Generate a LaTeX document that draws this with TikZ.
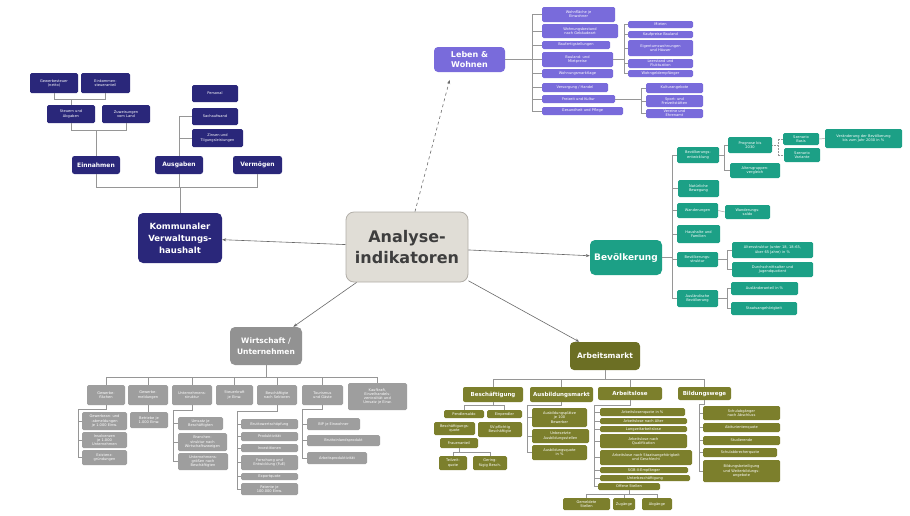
\documentclass[tikz,border=0pt]{standalone}
\usepackage{fontspec}
\setmainfont{DejaVu Sans}
\usetikzlibrary{arrows.meta,calc}
\definecolor{navyc}{RGB}{42,39,122}
\definecolor{violc}{RGB}{121,107,219}
\definecolor{tealc}{RGB}{28,160,134}
\definecolor{greyc}{RGB}{158,158,158}
\definecolor{greyd}{RGB}{146,146,146}
\definecolor{olivc}{RGB}{124,127,44}
\definecolor{olivd}{RGB}{108,111,36}
\definecolor{cenf}{RGB}{224,221,214}
\definecolor{cenb}{RGB}{178,174,168}
\definecolor{centxt}{RGB}{62,62,62}
\definecolor{linec}{RGB}{150,150,150}
\definecolor{mainc}{RGB}{105,105,105}
\newcommand\mkbox[7]{%
  \pgfmathsetmacro\mkw{#5-#3}%
  \pgfmathsetmacro\mkh{#6-#4}%
  \pgfmathsetmacro\mkx{(#3+#5)/2}%
  \pgfmathsetmacro\mky{(#4+#6)/2}%
  \pgfmathsetmacro\mktw{#5-#3-2}%
  \node[#1, minimum width=\mkw pt, minimum height=\mkh pt, text width=\mktw pt] (#2) at (\mkx,\mky) {#7};}
\tikzset{
  bx/.style={rounded corners=1.5pt, inner sep=0pt, align=center, text=white,
    font=\fontsize{3.6}{4.2}\selectfont},
  nv/.style={bx, fill=navyc},
  nvmid/.style={bx, fill=navyc, rounded corners=2.5pt, font=\fontsize{6}{7}\selectfont\bfseries},
  nvbig/.style={bx, fill=navyc, rounded corners=5pt, font=\fontsize{8.5}{12}\selectfont\bfseries},
  vi/.style={bx, fill=violc},
  vibig/.style={bx, fill=violc, rounded corners=4pt, font=\fontsize{8}{10}\selectfont\bfseries},
  tl/.style={bx, fill=tealc},
  tlbig/.style={bx, fill=tealc, rounded corners=5pt, font=\fontsize{9}{11}\selectfont\bfseries},
  gr/.style={bx, fill=greyc},
  grbig/.style={bx, fill=greyd, rounded corners=5pt, font=\fontsize{7.5}{11}\selectfont\bfseries},
  ol/.style={bx, fill=olivc},
  olmid/.style={bx, fill=olivc, rounded corners=2pt, font=\fontsize{5.5}{6.5}\selectfont\bfseries},
  olbig/.style={bx, fill=olivd, rounded corners=4pt, font=\fontsize{7.5}{9}\selectfont\bfseries},
  cen/.style={draw=cenb, fill=cenf, line width=0.8pt, rounded corners=8pt, inner sep=0pt,
    align=center, text=centxt, font=\fontsize{16}{21.5}\selectfont\bfseries},
  ln/.style={draw=linec, line width=0.45pt},
  mc/.style={draw=mainc, line width=0.6pt, -{Stealth[length=4pt,width=3pt]}},
}
\begin{document}
\begin{tikzpicture}[x=1pt,y=-1pt]
\fill[white] (0,0) rectangle (910,515);
\useasboundingbox (0,0) rectangle (910,515);

% ---------- centre
\mkbox{cen}{c}{346}{212}{468}{282}{Analyse-\\indikatoren}

% ---------- Kommunaler Verwaltungshaushalt
\mkbox{nvbig}{k0}{138}{213}{222}{263}{Kommunaler\\Verwaltungs-\\haushalt}
\mkbox{nvmid}{k1}{72}{156}{120}{174}{Einnahmen}
\mkbox{nvmid}{k2}{155}{156}{203}{174}{Ausgaben}
\mkbox{nvmid}{k3}{233}{156}{282}{174}{Vermögen}
\mkbox{nv}{k11}{47}{105}{95}{123}{Steuern und\\Abgaben}
\mkbox{nv}{k12}{102}{105}{150}{123}{Zuweisungen\\vom Land}
\mkbox{nv}{k111}{30}{73}{78}{93}{Gewerbesteuer\\(netto)}
\mkbox{nv}{k112}{81}{73}{130}{93}{Einkommen-\\steueranteil}
\mkbox{nv}{k21}{192}{85}{238}{102}{Personal}
\mkbox{nv}{k22}{192}{108}{238}{125}{Sachaufwand}
\mkbox{nv}{k23}{192}{129}{243}{147}{Zinsen und\\Tilgungsleistungen}
\coordinate (kb) at (0,187);
\coordinate (y130) at (0,130);
\coordinate (y99) at (0,99);
\draw[ln] (k1.south) |- (kb -| k3.south) -- (k3.south);
\draw[ln] (k0.north) -- (k0.north |- kb);
\draw[ln] (k2.south) -- (k2.south |- kb);
\draw[ln] (k11.south) |- (y130 -| k12.south) -- (k12.south);
\draw[ln] (k1.north) -- (k1.north |- y130);
\draw[ln] (k111.south) |- (y99 -| k112.south) -- (k112.south);
\draw[ln] (k11.north) -- (k11.north |- y99);
\draw[ln] (k2.north) -- (k2.north |- k22.west) -- (k22.west);
\draw[ln] (k2.north |- k23.west) -- (k23.west);

% ---------- Leben & Wohnen
\mkbox{vibig}{L0}{434}{47}{505}{72}{Leben \&\\Wohnen}
\mkbox{vi}{L1}{542}{7}{615}{22}{Wohnfläche je\\Einwohner}
\mkbox{vi}{L2}{542}{24}{618}{38}{Wohnungsbestand\\nach Gebäudeart}
\mkbox{vi}{L3}{542}{41}{610}{49}{Baufertigstellungen}
\mkbox{vi}{L4}{542}{52}{613}{67}{Bauland- und\\Mietpreise}
\mkbox{vi}{L5}{542}{69}{613}{78}{Wohnungsmarktlage}
\mkbox{vi}{L6}{542}{83}{608}{92}{Versorgung / Handel}
\mkbox{vi}{L7}{542}{95}{615}{103}{Freizeit und Kultur}
\mkbox{vi}{L8}{542}{107}{623}{115}{Gesundheit und Pflege}
\mkbox{vi}{L51}{628}{21}{693}{28}{Mieten}
\mkbox{vi}{L52}{628}{31}{693}{38}{Kaufpreise Bauland}
\mkbox{vi}{L53}{628}{40}{693}{56}{Eigentumswohnungen\\und Häuser}
\mkbox{vi}{L54}{628}{59}{693}{68}{Leerstand und\\Fluktuation}
\mkbox{vi}{L55}{628}{70}{693}{77}{Wohngeldempfänger}
\mkbox{vi}{L71}{646}{83}{703}{93}{Kulturangebote}
\mkbox{vi}{L72}{646}{95}{703}{107}{Sport- und\\Freizeitstätten}
\mkbox{vi}{L73}{646}{109}{703}{118}{Vereine und\\Ehrenamt}
\coordinate (lv) at (532,0);
\coordinate (rv) at (624,0);
\coordinate (rv2) at (641,0);
\draw[ln] (L0.east) -- (L0.east -| lv);
\draw[ln] (L1.west -| lv) -- (L8.west -| lv);
\foreach \n in {L1,L2,L3,L4,L5,L6,L7,L8} \draw[ln] (\n.west -| lv) -- (\n.west);
\draw[ln] (L4.east) -- (L4.east -| rv);
\draw[ln] (L51.west -| rv) -- (L55.west -| rv);
\foreach \n in {L51,L52,L53,L54,L55} \draw[ln] (\n.west -| rv) -- (\n.west);
\draw[ln] (L7.east) -- (L7.east -| rv2);
\draw[ln] (L71.west -| rv2) -- (L73.west -| rv2);
\foreach \n in {L71,L72,L73} \draw[ln] (\n.west -| rv2) -- (\n.west);

% ---------- Bevoelkerung
\mkbox{tlbig}{T0}{590}{240}{662}{275}{Bevölkerung}
\mkbox{tl}{T1}{677}{147}{719}{163}{Bevölkerungs-\\entwicklung}
\mkbox{tl}{T2}{678}{180}{719}{197}{Natürliche\\Bewegung}
\mkbox{tl}{T3}{677}{203}{718}{218}{Wanderungen}
\mkbox{tl}{T4}{677}{225}{720}{243}{Haushalte und\\Familien}
\mkbox{tl}{T5}{677}{252}{718}{267}{Bevölkerungs-\\struktur}
\mkbox{tl}{T6}{677}{290}{718}{307}{Ausländische\\Bevölkerung}
\mkbox{tl}{T11}{728}{137}{772}{153}{Prognose bis\\2030}
\mkbox{tl}{T12}{730}{163}{780}{178}{Altersgruppen-\\vergleich}
\mkbox{tl}{T111}{783}{133}{819}{145}{Szenario\\Basis}
\mkbox{tl}{T112}{784}{148}{820}{162}{Szenario\\Variante}
\mkbox{tl}{T1111}{825}{129}{902}{148}{Veränderung der Bevölkerung\\bis zum Jahr 2030 in \%}
\mkbox{tl}{T31}{725}{205}{770}{219}{Wanderungs-\\saldo}
\mkbox{tl}{T51}{732}{242}{813}{258}{Altersstruktur (unter 18, 18–65,\\über 65 Jahre) in \%}
\mkbox{tl}{T52}{732}{262}{813}{277}{Durchschnittsalter und\\Jugendquotient}
\mkbox{tl}{T61}{731}{282}{798}{295}{Ausländeranteil in \%}
\mkbox{tl}{T62}{731}{302}{797}{315}{Staatsangehörigkeit}
\coordinate (tv) at (672,0);
\coordinate (tb1) at (724,0);
\coordinate (tb2) at (778,0);
\coordinate (tb3) at (727,0);
\draw[ln] (T0.east) -- (T0.east -| tv);
\draw[ln] (T1.west -| tv) -- (T6.west -| tv);
\foreach \n in {T1,T2,T3,T4,T5,T6} \draw[ln] (\n.west -| tv) -- (\n.west);
\draw[ln] (T1.east) -- (T1.east -| tb1);
\draw[ln] (T11.west -| tb1) -- (T12.west -| tb1);
\foreach \n in {T11,T12} \draw[ln] (\n.west -| tb1) -- (\n.west);
\draw[ln, densely dotted] (T11.east) -- (T11.east -| tb2);
\draw[ln, densely dotted] (T111.west -| tb2) -- (T112.west -| tb2);
\foreach \n in {T111,T112} \draw[ln, densely dotted] (\n.west -| tb2) -- (\n.west);
\draw[ln] (T111.east) -- (T1111.west);
\draw[ln] (T3.east) -- (T31.west);
\draw[ln] (T5.east) -- (T5.east -| tb3);
\draw[ln] (T51.west -| tb3) -- (T52.west -| tb3);
\foreach \n in {T51,T52} \draw[ln] (\n.west -| tb3) -- (\n.west);
\draw[ln] (T6.east) -- (T6.east -| tb3);
\draw[ln] (T61.west -| tb3) -- (T62.west -| tb3);
\foreach \n in {T61,T62} \draw[ln] (\n.west -| tb3) -- (\n.west);

% ---------- Wirtschaft / Unternehmen
\mkbox{grbig}{W0}{230}{327}{302}{365}{Wirtschaft /\\Unternehmen}
\mkbox{gr}{W1}{87}{385}{125}{405}{Gewerbe-\\flächen}
\mkbox{gr}{W2}{128}{385}{168}{405}{Gewerbe-\\meldungen}
\mkbox{gr}{W3}{172}{385}{212}{405}{Unternehmens-\\struktur}
\mkbox{gr}{W4}{216}{385}{253}{405}{Steuerkraft\\je Einw.}
\mkbox{gr}{W5}{257}{385}{297}{405}{Beschäftigte\\nach Sektoren}
\mkbox{gr}{W6}{302}{385}{343}{405}{Tourismus\\und Gäste}
\mkbox{gr}{W7}{348}{383}{407}{410}{Kaufkraft,\\Einzelhandels-\\zentralität und\\Umsatz je Einw.}
\mkbox{gr}{W11}{82}{412}{127}{430}{Gewerbean- und\\-abmeldungen\\je 1.000 Einw.}
\mkbox{gr}{W12}{82}{432}{127}{448}{Insolvenzen\\je 1.000\\Unternehmen}
\mkbox{gr}{W13}{82}{450}{127}{465}{Existenz-\\gründungen}
\mkbox{gr}{W21}{130}{412}{168}{428}{Betriebe je\\1.000 Einw.}
\mkbox{gr}{W31}{178}{417}{223}{430}{Umsatz je\\Beschäftigten}
\mkbox{gr}{W32}{178}{433}{227}{451}{Branchen-\\struktur nach\\Wirtschaftszweigen}
\mkbox{gr}{W33}{178}{453}{228}{470}{Unternehmens-\\größen nach\\Beschäftigten}
\mkbox{gr}{W51}{241}{419}{298}{429}{Bruttowertschöpfung}
\mkbox{gr}{W52}{241}{432}{298}{441}{Produktivität}
\mkbox{gr}{W53}{241}{444}{298}{452}{Investitionen}
\mkbox{gr}{W54}{241}{455}{298}{470}{Forschung und\\Entwicklung (FuE)}
\mkbox{gr}{W55}{241}{473}{298}{480}{Exportquote}
\mkbox{gr}{W56}{241}{483}{298}{495}{Patente je\\100.000 Einw.}
\mkbox{gr}{W61}{307}{418}{360}{430}{BIP je Einwohner}
\mkbox{gr}{W62}{307}{435}{380}{446}{Bruttoinlandsprodukt}
\mkbox{gr}{W63}{307}{452}{367}{464}{Arbeitsproduktivität}
\coordinate (gb) at (0,377);
\draw[ln] (W1.north) |- (gb -| W7.north) -- (W7.north);
\draw[ln] (W0.south) -- (W0.south |- gb);
\foreach \n in {W2,W3,W4,W5,W6} \draw[ln] (\n.north) -- (\n.north |- gb);
\coordinate (g1) at (78,409);
\draw[ln] (W1.south) |- (g1) -- (g1 |- W13.west);
\foreach \n in {W11,W12,W13} \draw[ln] (g1 |- \n.west) -- (\n.west);
\draw[ln] (W2.south) -- (W2.south |- W21.north);
\coordinate (g3) at (173,410);
\draw[ln] (W3.south) |- (g3) -- (g3 |- W33.west);
\foreach \n in {W31,W32,W33} \draw[ln] (g3 |- \n.west) -- (\n.west);
\coordinate (g5) at (237,411);
\draw[ln] (W5.south) |- (g5) -- (g5 |- W56.west);
\foreach \n in {W51,W52,W53,W54,W55,W56} \draw[ln] (g5 |- \n.west) -- (\n.west);
\coordinate (g6) at (302,409);
\draw[ln] (W6.south) |- (g6) -- (g6 |- W63.west);
\foreach \n in {W61,W62,W63} \draw[ln] (g6 |- \n.west) -- (\n.west);

% ---------- Arbeitsmarkt
\mkbox{olbig}{A0}{570}{342}{640}{370}{Arbeitsmarkt}
\mkbox{olmid}{A1}{463}{387}{523}{402}{Beschäftigung}
\mkbox{olmid}{A2}{530}{387}{593}{402}{Ausbildungsmarkt}
\mkbox{olmid}{A3}{598}{387}{662}{400}{Arbeitslose}
\mkbox{olmid}{A4}{678}{387}{731}{400}{Bildungswege}
\mkbox{ol}{A11}{444}{410}{484}{418}{Pendlersaldo}
\mkbox{ol}{A12}{487}{410}{522}{418}{Einpendler}
\mkbox{ol}{A13}{434}{422}{475}{435}{Beschäftigungs-\\quote}
\mkbox{ol}{A14}{478}{422}{522}{437}{SV-pflichtig\\Beschäftigte}
\mkbox{ol}{A15}{440}{438}{478}{448}{Frauenanteil}
\mkbox{ol}{A16}{439}{456}{467}{470}{Teilzeit-\\quote}
\mkbox{ol}{A17}{473}{456}{507}{470}{Gering-\\fügig Besch.}
\mkbox{ol}{A21}{532}{408}{587}{427}{Ausbildungsplätze\\je 100\\Bewerber}
\mkbox{ol}{A22}{532}{429}{589}{443}{Unbesetzte\\Ausbildungsstellen}
\mkbox{ol}{A23}{532}{445}{587}{460}{Ausbildungsquote\\in \%}
\mkbox{ol}{A31}{600}{408}{685}{416}{Arbeitslosenquote in \%}
\mkbox{ol}{A32}{600}{418}{687}{424}{Arbeitslose nach Alter}
\mkbox{ol}{A33}{600}{426}{687}{432}{Langzeitarbeitslose}
\mkbox{ol}{A34}{600}{434}{687}{448}{Arbeitslose nach\\Qualifikation}
\mkbox{ol}{A35}{600}{450}{692}{465}{Arbeitslose nach Staatsangehörigkeit\\und Geschlecht}
\mkbox{ol}{A36}{600}{467}{688}{473}{SGB-II-Empfänger}
\mkbox{ol}{A37}{600}{475}{690}{481}{Unterbeschäftigung}
\mkbox{ol}{A38}{598}{483}{660}{490}{Offene Stellen}
\mkbox{ol}{A381}{563}{498}{610}{510}{Gemeldete\\Stellen}
\mkbox{ol}{A382}{613}{498}{635}{510}{Zugänge}
\mkbox{ol}{A383}{642}{498}{672}{510}{Abgänge}
\mkbox{ol}{A41}{703}{406}{780}{420}{Schulabgänger\\nach Abschluss}
\mkbox{ol}{A42}{703}{423}{780}{432}{Abiturientenquote}
\mkbox{ol}{A43}{703}{436}{780}{445}{Studierende}
\mkbox{ol}{A44}{703}{448}{777}{457}{Schulabbrecherquote}
\mkbox{ol}{A45}{703}{460}{780}{482}{Bildungsbeteiligung\\und Weiterbildungs-\\angebote}
\coordinate (ob) at (0,379);
\draw[ln] (A1.north) |- (ob -| A4.north) -- (A4.north);
\draw[ln] (A0.south) -- (A0.south |- ob);
\foreach \n in {A2,A3} \draw[ln] (\n.north) -- (\n.north |- ob);
\coordinate (o1) at (0,405);
\draw[ln] (A1.south) -- (A1.south |- o1);
\draw[ln] (A11.north) |- (o1 -| A12.north) -- (A12.north);
\coordinate (o15) at (0,452);
\draw[ln] (A15.south) -- (A15.south |- o15);
\draw[ln] (A16.north) |- (o15 -| A17.north) -- (A17.north);
\coordinate (o2) at (527,405);
\draw[ln] (A2.south) |- (o2) -- (o2 |- A23.west);
\foreach \n in {A21,A22,A23} \draw[ln] (o2 |- \n.west) -- (\n.west);
\coordinate (o3) at (594,405);
\draw[ln] (A3.south) |- (o3) -- (o3 |- A38.west);
\foreach \n in {A31,A32,A33,A34,A35,A36,A37,A38} \draw[ln] (o3 |- \n.west) -- (\n.west);
\coordinate (o38) at (0,494);
\draw[ln] (A38.south) -- (A38.south |- o38);
\draw[ln] (A381.north) |- (o38 -| A383.north) -- (A383.north);
\draw[ln] (A382.north) -- (A382.north |- o38);
\coordinate (o4) at (699,404);
\draw[ln] (A4.south) |- (o4) -- (o4 |- A45.west);
\foreach \n in {A41,A42,A43,A44,A45} \draw[ln] (o4 |- \n.west) -- (\n.west);

% ---------- main connectors
\draw[mc] (c) -- (k0);
\draw[mc] (c) -- (T0);
\draw[mc] (c) -- (W0);
\draw[mc] (c) -- (A0);
\draw[mc, dashed, shorten >=8pt] ($(c.north)+(8,0)$) -- ($(L0.south west)!0.25!(L0.south east)$);
\end{tikzpicture}
\end{document}
